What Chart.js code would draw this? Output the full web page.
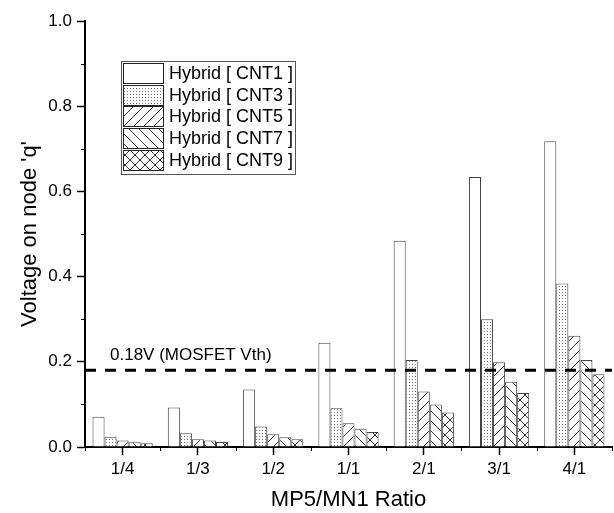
<!DOCTYPE html>
<html>
<head>
<meta charset="utf-8">
<script src="https://cdn.jsdelivr.net/npm/chart.js@4.4.1/dist/chart.umd.min.js"></script>
<style>
  html, body { margin: 0; padding: 0; background: #fff; }
  #c { display: block; }
</style>
</head>
<body>
<canvas id="c" width="614" height="513"></canvas>
<script>
// ---- Data ----
const categories = ['1/4', '1/3', '1/2', '1/1', '2/1', '3/1', '4/1'];
const seriesLabels = ['Hybrid [ CNT1 ]', 'Hybrid [ CNT3 ]', 'Hybrid [ CNT5 ]', 'Hybrid [ CNT7 ]', 'Hybrid [ CNT9 ]'];
const cnt1 = [0.071, 0.093, 0.135, 0.245, 0.484, 0.634, 0.718];
const cnt3 = [0.024, 0.032, 0.048, 0.091, 0.204, 0.300, 0.384];
const cnt5 = [0.015, 0.018, 0.030, 0.056, 0.130, 0.199, 0.261];
const cnt7 = [0.011, 0.015, 0.023, 0.043, 0.100, 0.153, 0.204];
const cnt9 = [0.009, 0.012, 0.018, 0.035, 0.081, 0.127, 0.171];
const yTickValues = [0.0, 0.2, 0.4, 0.6, 0.8, 1.0];
const yMinorTickValues = [0.1, 0.3, 0.5, 0.7, 0.9];
const thresholdValue = 0.18;
const thresholdLabel = '0.18V (MOSFET Vth)';
const xTitle = 'MP5/MN1 Ratio';
const yTitle = "Voltage on node 'q'";

// ---- Patterns ----
function makePattern(type) {
  if (type === 'none') return '#ffffff';
  const c = document.createElement('canvas');
  const g = c.getContext('2d');
  if (type === 'dots') {
    c.width = 3; c.height = 3;
    g.fillStyle = '#fff'; g.fillRect(0, 0, 3, 3);
    g.fillStyle = '#777'; g.fillRect(1, 1, 1, 1);
  } else {
    const s = 10;
    c.width = s; c.height = s;
    g.fillStyle = '#fff'; g.fillRect(0, 0, s, s);
    g.strokeStyle = '#333'; g.lineWidth = 1;
    const fwd = () => {
      g.beginPath();
      g.moveTo(-1, s + 1); g.lineTo(s + 1, -1);
      g.moveTo(-1, 1); g.lineTo(1, -1);
      g.moveTo(s - 1, s + 1); g.lineTo(s + 1, s - 1);
      g.stroke();
    };
    const back = () => {
      g.beginPath();
      g.moveTo(-1, -1); g.lineTo(s + 1, s + 1);
      g.moveTo(s - 1, -1); g.lineTo(s + 1, 1);
      g.moveTo(-1, s - 1); g.lineTo(1, s + 1);
      g.stroke();
    };
    if (type === 'fwd') fwd();
    if (type === 'back') back();
    if (type === 'cross') { fwd(); back(); }
  }
  return g.createPattern(c, 'repeat');
}
const fills = ['none', 'dots', 'fwd', 'back', 'cross'].map(makePattern);
const seriesValues = [cnt1, cnt3, cnt5, cnt7, cnt9];

// ---- Plugin: minor ticks, threshold line, legend ----
const extras = {
  id: 'extras',
  afterDraw(chart) {
    const ctx = chart.ctx;
    const xs = chart.scales.x, ys = chart.scales.y;
    const area = chart.chartArea;
    ctx.save();
    // minor ticks y
    ctx.strokeStyle = '#000'; ctx.lineWidth = 1;
    yMinorTickValues.forEach(v => {
      const py = Math.round(ys.getPixelForValue(v)) + 0.5;
      ctx.beginPath(); ctx.moveTo(area.left - 4, py); ctx.lineTo(area.left, py); ctx.stroke();
    });
    // minor ticks x at category boundaries
    const half = (xs.getPixelForValue(1) - xs.getPixelForValue(0)) / 2;
    for (let i = 0; i <= categories.length; i++) {
      const px = Math.round(xs.getPixelForValue(0) - half + i * 2 * half) + 0.5;
      ctx.beginPath(); ctx.moveTo(px, area.bottom); ctx.lineTo(px, area.bottom + 4); ctx.stroke();
    }
    // threshold line
    const ty = ys.getPixelForValue(thresholdValue);
    ctx.strokeStyle = '#000'; ctx.lineWidth = 3; ctx.setLineDash([11, 9]);
    ctx.beginPath(); ctx.moveTo(area.left, ty); ctx.lineTo(area.right, ty); ctx.stroke();
    ctx.setLineDash([]);
    ctx.fillStyle = '#000';
    ctx.font = '17px "Liberation Sans", Arial, sans-serif';
    ctx.textAlign = 'left'; ctx.textBaseline = 'alphabetic';
    ctx.fillText(thresholdLabel, 110, ty - 10);
    // legend
    const lx = 121.5, ly = 61.5, lw = 174, lh = 113;
    ctx.fillStyle = '#fff'; ctx.fillRect(lx, ly, lw, lh);
    ctx.strokeStyle = '#555'; ctx.lineWidth = 1; ctx.strokeRect(lx, ly, lw, lh);
    ctx.font = '18px "Liberation Sans", Arial, sans-serif';
    ctx.textBaseline = 'middle';
    chart.data.datasets.forEach((ds, i) => {
      const cy = 73 + i * 21.7;
      const sx = 123.5, sy = Math.round(cy - 10) + 0.5;
      ctx.fillStyle = ds.backgroundColor;
      ctx.fillRect(sx, sy, 40, 20);
      ctx.strokeStyle = '#222'; ctx.lineWidth = 1;
      ctx.strokeRect(sx, sy, 40, 20);
      ctx.fillStyle = '#000';
      ctx.fillText(ds.label, 169, cy + 1);
    });
    ctx.restore();
  }
};

new Chart(document.getElementById('c'), {
  type: 'bar',
  data: {
    labels: categories,
    datasets: seriesValues.map((vals, i) => ({
      label: seriesLabels[i],
      data: vals,
      backgroundColor: fills[i],
      borderColor: '#444',
      borderWidth: 1,
      categoryPercentage: 0.8,
      barPercentage: 1.0
    }))
  },
  options: {
    responsive: false,
    animation: false,
    devicePixelRatio: 1,
    layout: { padding: { top: 21, right: 2, left: 0, bottom: 0 } },
    plugins: { legend: { display: false }, tooltip: { enabled: false } },
    scales: {
      x: {
        grid: { display: true, drawOnChartArea: false, drawTicks: true, tickLength: 8, tickColor: '#000', tickWidth: 1.5, offset: false },
        border: { display: true, color: '#000', width: 2 },
        ticks: { color: '#000', font: { size: 17, family: '"Liberation Sans", Arial, sans-serif' }, padding: 4, maxRotation: 0 },
        title: { display: true, text: xTitle, color: '#000', font: { size: 22, family: '"Liberation Sans", Arial, sans-serif' }, padding: { top: 0, bottom: 0 } },
        afterFit(scale) { scale.height = 66; }
      },
      y: {
        min: 0, max: 1.0,
        afterBuildTicks(scale) { scale.ticks = yTickValues.map(v => ({ value: v })); },
        grid: { display: true, drawOnChartArea: false, drawTicks: true, tickLength: 8, tickColor: '#000', tickWidth: 1.5 },
        border: { display: true, color: '#000', width: 2 },
        ticks: { color: '#000', font: { size: 17, family: '"Liberation Sans", Arial, sans-serif' }, padding: 5, callback: v => Number(v).toFixed(1) },
        title: { display: true, text: yTitle, color: '#000', font: { size: 22, family: '"Liberation Sans", Arial, sans-serif' }, padding: { top: 17, bottom: 0 } },
        afterFit(scale) { scale.width = 85; }
      }
    }
  },
  plugins: [extras]
});
</script>
</body>
</html>
